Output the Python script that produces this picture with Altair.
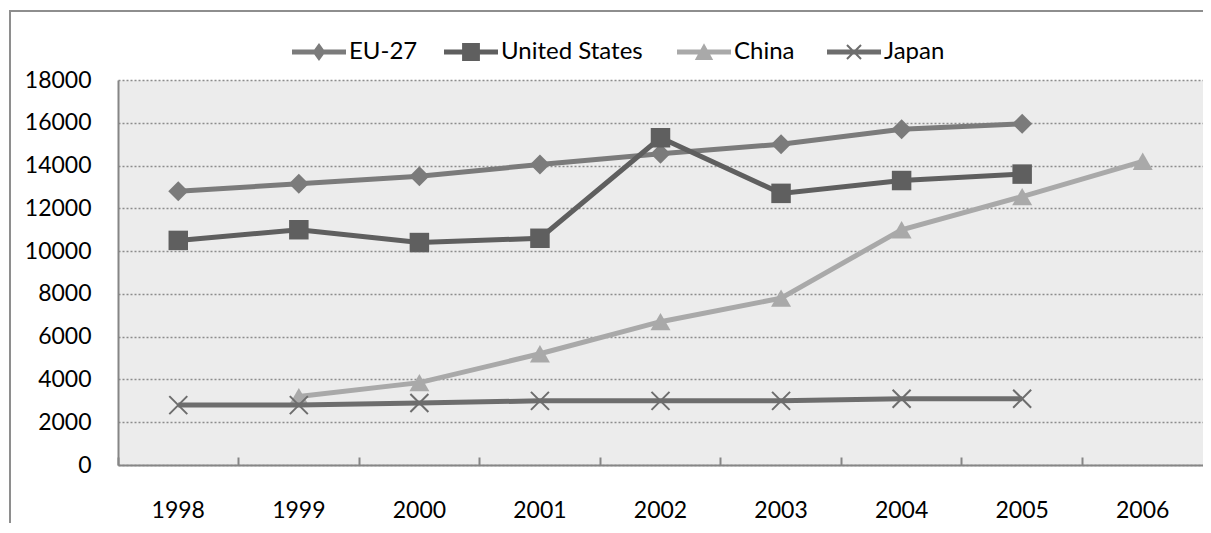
import altair as alt
import pandas as pd

years = ["1998", "1999", "2000", "2001", "2002", "2003", "2004", "2005", "2006"]
series_names = ["EU-27", "United States", "China", "Japan"]
eu_27 = [12800, 13150, 13500, 14050, 14550, 15000, 15700, 15950, None]
united_states = [10500, 11000, 10400, 10600, 15300, 12700, 13300, 13600, None]
china = [None, 3200, 3850, 5200, 6700, 7800, 11000, 12550, 14200]
japan = [2800, 2800, 2900, 3000, 3000, 3000, 3100, 3100, None]
y_ticks = list(range(0, 18001, 2000))
colors = ["#7b7b7b", "#5f5f5f", "#a9a9a9", "#6d6d6d"]

rows = []
for name, vals in zip(series_names, [eu_27, united_states, china, japan]):
    for yr, v in zip(years, vals):
        if v is not None:
            rows.append({"year": yr, "series": name, "value": v})
df = pd.DataFrame(rows)

W, H = 1085, 385
FONT = "Lato"
AXIS_GRAY = "#868686"

xscale = alt.Scale(type="band", domain=years, paddingInner=0, paddingOuter=0)
yscale = alt.Scale(domain=[0, 18000], nice=False)

y_enc = alt.Y(
    "value:Q",
    scale=yscale,
    axis=alt.Axis(
        values=y_ticks, title=None, ticks=False, labelPadding=27, format="d",
        labelFont=FONT, labelFontSize=23, labelColor="#000000",
        domainColor=AXIS_GRAY, domainWidth=2,
        grid=True, gridColor="#8c8c8c", gridDash=[2, 2], gridWidth=1.5,
    ),
)

x_bottom = alt.X(
    "year:O", scale=xscale,
    axis=alt.Axis(
        title=None, orient="bottom", ticks=False, labelAngle=0, labelPadding=34,
        labelFont=FONT, labelFontSize=23, labelColor="#000000",
        domainColor=AXIS_GRAY, domainWidth=2, grid=False,
    ),
)
x_none = alt.X("year:O", scale=xscale, axis=None)
x_ticks = alt.X(
    "year:O", scale=xscale,
    axis=alt.Axis(
        title=None, orient="top", offset=-H, labels=False, domain=False,
        ticks=True, tickSize=8, tickColor=AXIS_GRAY, tickWidth=2,
        bandPosition=0, grid=False,
    ),
)

# legend symbols: line with marker (unit = half symbol width = 27px)
line_p = "M-1,-0.09H1V0.09H-1Z"
leg_paths = [
    line_p + "M-0.24,0L0,-0.33L0.24,0L0,0.33Z",
    line_p + "M-0.33,-0.33H0.33V0.33H-0.33Z",
    line_p + "M-0.34,0.3L0,-0.32L0.34,0.3Z",
    line_p + "M-0.234,-0.286L0.286,0.234L0.234,0.286L-0.286,-0.234Z"
    + "M-0.286,0.234L0.234,-0.286L0.286,-0.234L-0.234,0.286Z",
]
legend_x = [174, 326, 559, 709]
marker_shapes = ["diamond", "square", "triangle-up", "M-1,-1L1,1M-1,1L1,-1"]
marker_sizes = [400, 380, 400, 324]

frame = alt.Chart(pd.DataFrame({"k": [0]})).mark_rect(
    fillOpacity=0, stroke="#8e8e8e", strokeWidth=2
).encode(x=alt.value(-108), x2=alt.value(W + 40), y=alt.value(-69), y2=alt.value(H + 90))

layers = [frame]
for i, name in enumerate(series_names):
    sub = df[df["series"] == name]
    legend = alt.Legend(
        title=None, orient="none", legendX=legend_x[i], legendY=-55,
        labelOffset=3, labelFont=FONT, labelFontSize=24, labelColor="#000000",
        symbolType=leg_paths[i], symbolSize=2916, symbolFillColor=colors[i],
        symbolStrokeColor=colors[i], symbolStrokeWidth=0, symbolOpacity=1,
        padding=0,
    )
    line = alt.Chart(sub).mark_line(strokeWidth=5).encode(
        x=x_bottom if i == 0 else (x_ticks if i == 1 else x_none),
        y=y_enc,
        color=alt.Color("series:N",
                        scale=alt.Scale(domain=[name], range=[colors[i]]),
                        legend=legend),
    )
    if i == 3:
        pts = alt.Chart(sub).mark_point(
            filled=False, shape=marker_shapes[i], size=marker_sizes[i],
            strokeWidth=2, color=colors[i], opacity=1,
        ).encode(x=x_none, y=y_enc)
    else:
        pts = alt.Chart(sub).mark_point(
            filled=True, shape=marker_shapes[i], size=marker_sizes[i],
            color=colors[i], opacity=1,
        ).encode(x=x_none, y=y_enc)
    layers += [line, pts]

chart = alt.layer(*layers).resolve_axis(
    x="independent"
).resolve_scale(
    color="independent"
).resolve_legend(
    color="independent"
).properties(
    width=W, height=H,
    padding={"left": 110, "top": 72, "right": 0, "bottom": 58},
    autosize=alt.AutoSizeParams(type="none"),
    background="#ffffff",
).configure_view(fill="#ececec", stroke="transparent")

chart.save("out.html", embed_options={"renderer": "svg", "actions": False})
